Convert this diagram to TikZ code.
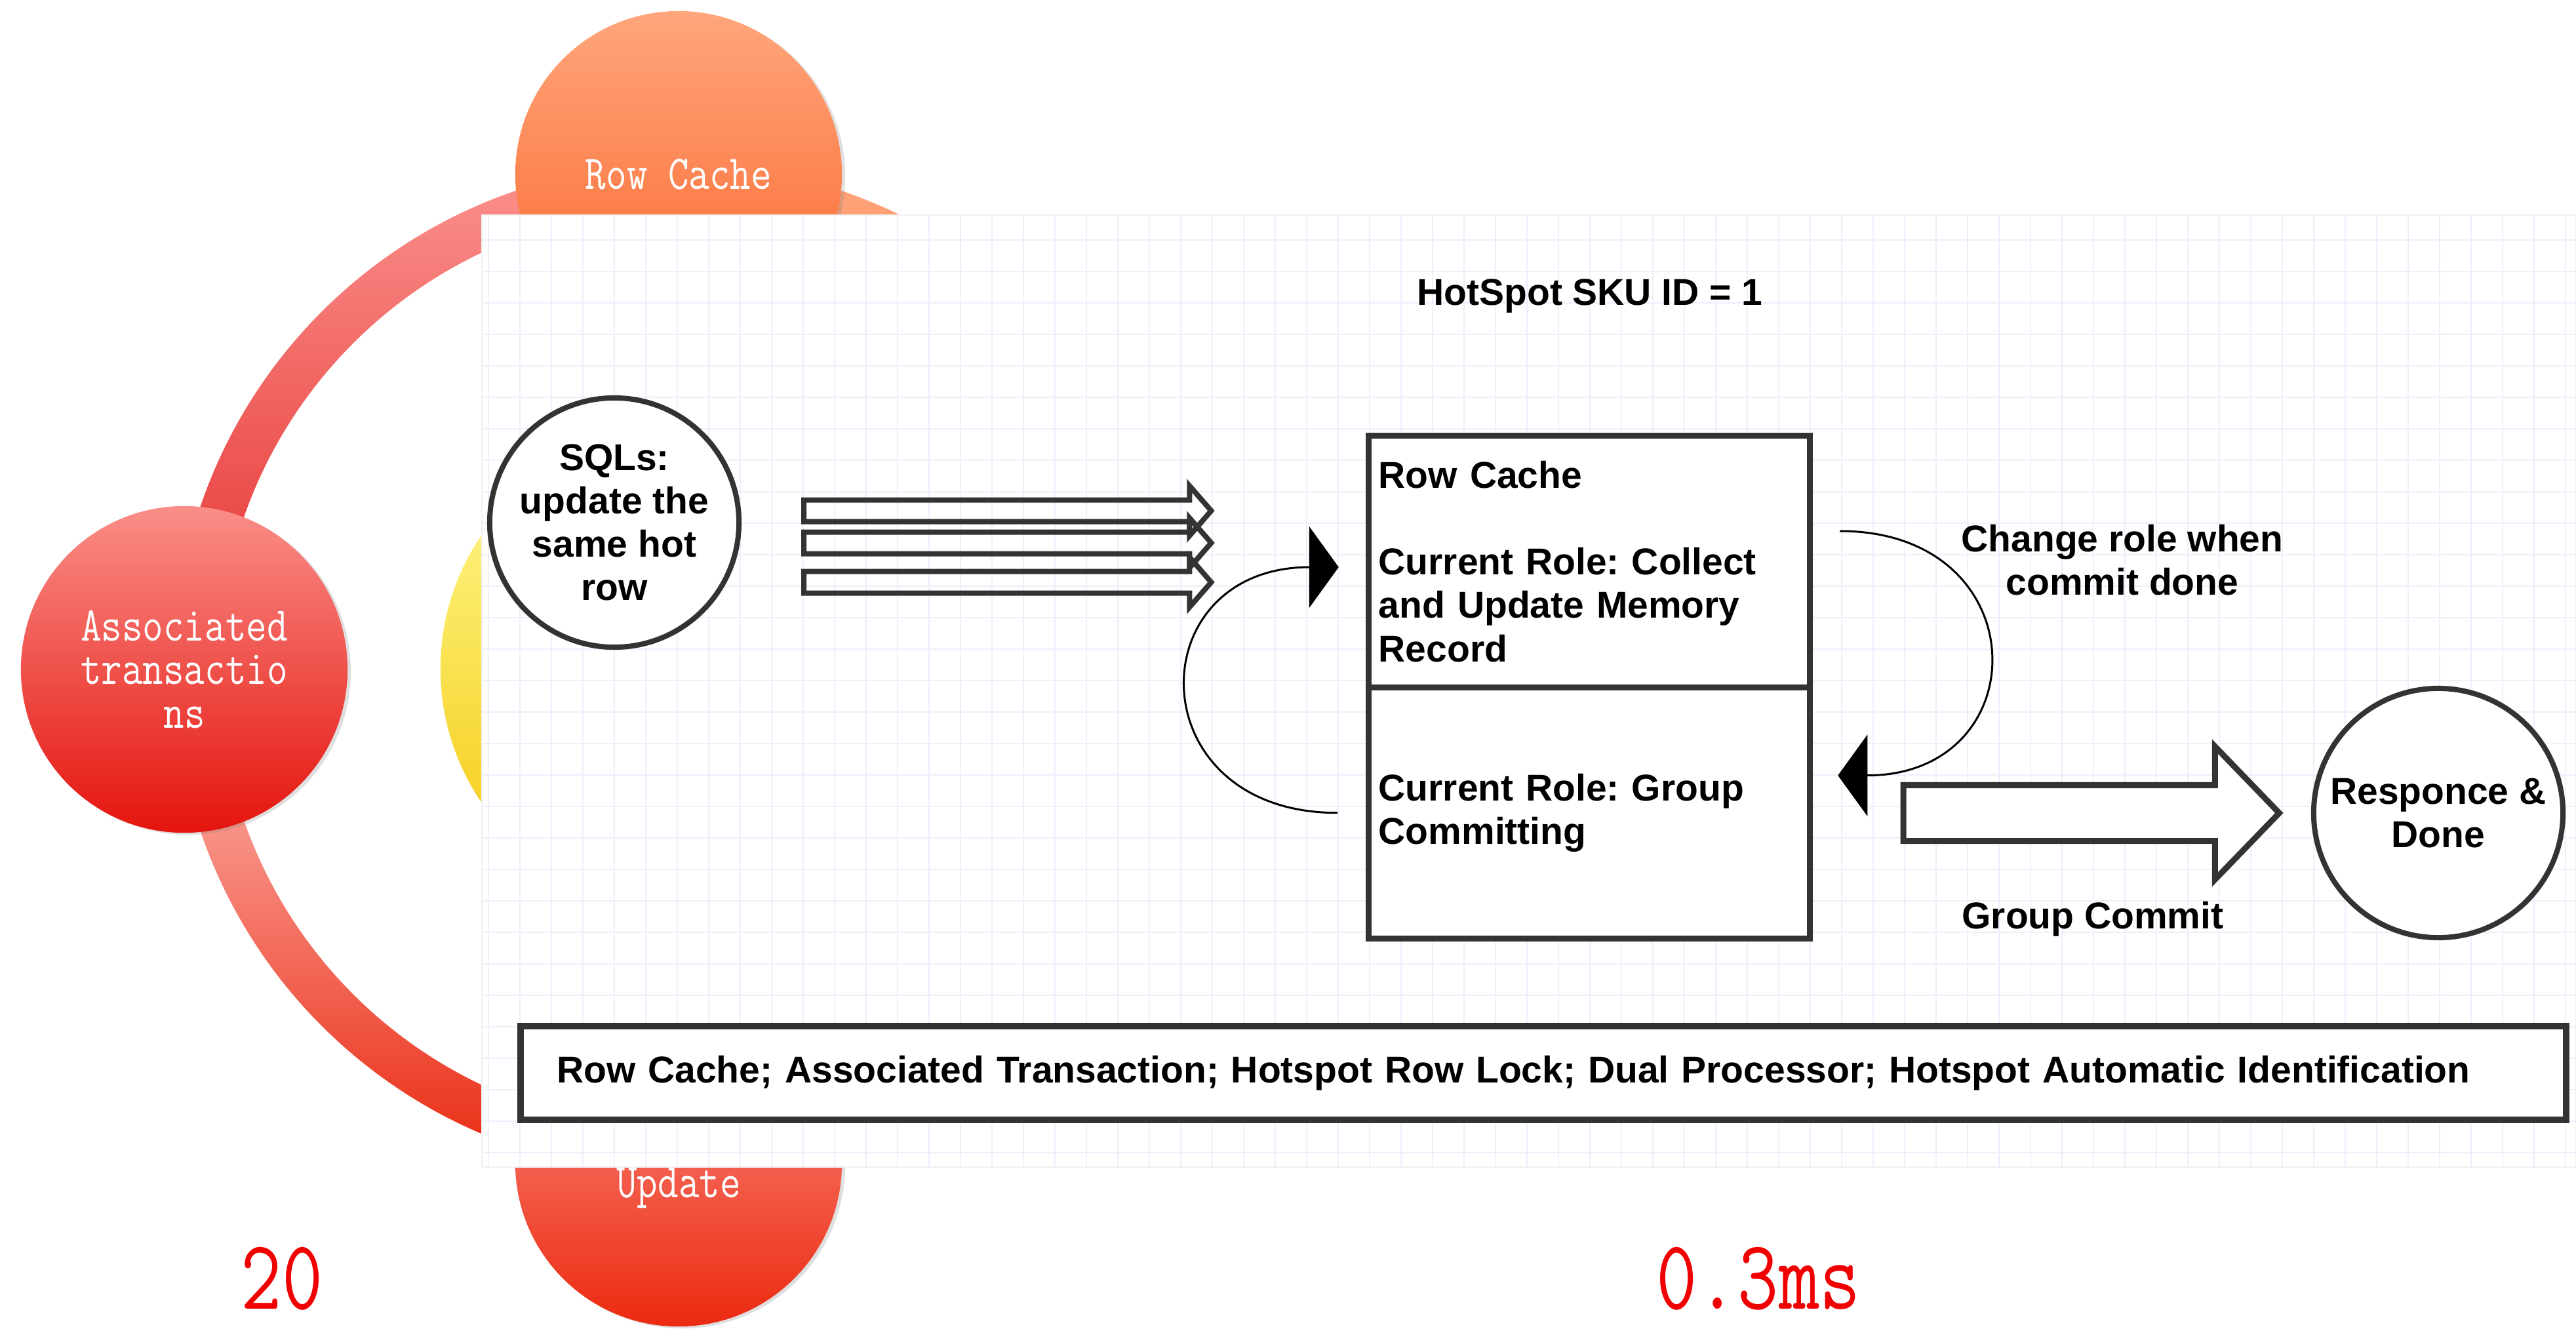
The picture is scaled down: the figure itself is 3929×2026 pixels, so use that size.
\documentclass[tikz,border=0pt]{standalone}
\usepackage{fontspec}
\setmainfont{Liberation Sans}
\usetikzlibrary{shapes,shadows,arrows.meta,positioning}

\definecolor{gridline}{RGB}{238,238,252}
\definecolor{ink}{RGB}{51,51,51}
\definecolor{hotred}{RGB}{240,0,0}
\definecolor{orangeT}{RGB}{255,166,124}
\definecolor{orangeB}{RGB}{250,102,44}
\definecolor{pinkT}{RGB}{251,146,142}
\definecolor{pinkB}{RGB}{227,44,42}
\definecolor{salmonT}{RGB}{255,195,190}
\definecolor{salmonB}{RGB}{233,39,14}
\definecolor{redT}{RGB}{250,142,136}
\definecolor{redB}{RGB}{229,20,14}
\definecolor{updT}{RGB}{250,150,140}
\definecolor{updB}{RGB}{236,42,16}
\definecolor{sunT}{RGB}{255,252,150}
\definecolor{sunB}{RGB}{244,198,10}

\newcommand{\flowfont}{\fontsize{16.2}{18.8}\selectfont\bfseries\frenchspacing}
\newcommand{\cyclefont}{\fontsize{21}{19}\selectfont\ttfamily}
\newcommand{\slimtext}[1]{\scalebox{0.83}[1]{#1}}

\tikzstyle{line} = [draw, line width=0.03cm, -{Triangle[length=0.45cm,width=1.24cm]}]
\tikzstyle{bubble} = [circle, minimum size=4.98cm, inner sep=0pt, text=white, align=center, font=\cyclefont, drop shadow={shadow xshift=0.05cm, shadow yshift=-0.03cm, opacity=0.25}]
\tikzstyle{ball} = [circle, draw=ink, line width=0.08cm, fill=white, minimum size=3.8cm, inner sep=0pt, align=center, font=\flowfont]
\tikzstyle{cell} = [rectangle, draw=ink, line width=0.09cm, fill=white, minimum width=6.72cm, minimum height=3.83cm, text width=6.42cm, inner xsep=0.15cm, outer sep=0pt, align=left, font=\flowfont]
\tikzstyle{hollow} = [single arrow, draw=ink, line width=0.08cm, inner xsep=0pt, outer sep=0pt, anchor=tail]
\tikzstyle{feed} = [hollow, minimum height=6.21cm, inner ysep=0.125cm, single arrow head extend=0.215cm, single arrow tip angle=98]
\tikzstyle{lbl} = [inner sep=0pt, align=center, font=\flowfont]
\tikzstyle{big} = [text=hotred, inner sep=0pt, font=\fontsize{43}{43}\selectfont\ttfamily]

\begin{document}
\begin{tikzpicture}[x=0.01cm, y=-0.01cm]
\useasboundingbox (0,0) rectangle (3929,2026);
\coordinate (hub) at (1035,1020);

\shade[top color=pinkT, bottom color=pinkB] ([shift={(180:770)}]hub) arc[start angle=180, end angle=270, radius=770] -- ([shift={(270:702)}]hub) arc[start angle=270, end angle=180, radius=702] -- cycle;
\shade[top color=salmonT, bottom color=salmonB] ([shift={(90:770)}]hub) arc[start angle=90, end angle=180, radius=770] -- ([shift={(180:702)}]hub) arc[start angle=180, end angle=90, radius=702] -- cycle;
\shade[top color=orangeT, bottom color=orangeB] ([shift={(270:770)}]hub) arc[start angle=270, end angle=360, radius=770] -- ([shift={(360:702)}]hub) arc[start angle=360, end angle=270, radius=702] -- cycle;

\node[bubble, minimum size=7.26cm, top color=sunT, bottom color=sunB] (core) at (hub) {};
\node[bubble, top color=orangeT, bottom color=orangeB] (rowc) at (1035,266) {\slimtext{Row Cache}};
\node[bubble, top color=redT, bottom color=redB] (assoc) at (281,1021) {\slimtext{Associated}\\\slimtext{transactio}\\\slimtext{ns}};
\node[bubble, top color=updT, bottom color=updB] (upd) at (1035,1774) {};
\node[text=white, inner sep=0pt, font=\cyclefont] (updtxt) at ([yshift=-0.38cm]upd.center) {\slimtext{Update}};

\node[big] (cnt) at (430,1950) {\scalebox{0.8}[1]{20}};
\node[big] (lat) at (2682,1950) {\scalebox{0.8}[1]{0.3ms}};

\fill[white, draw=black!6] (735,328) rectangle (3929,1780);
\foreach \gx in {745,793,...,3929} \draw[gridline, line width=0.02cm] (\gx,328) -- (\gx,1780);
\foreach \gy in {366,414,...,1780} \draw[gridline, line width=0.02cm] (735,\gy) -- (3929,\gy);

\node[lbl] (title) at (2425,452) {HotSpot SKU ID = 1};
\node[ball] (sql) at (937,797) {SQLs:\\update the\\same hot\\row};
\node[feed] (feedA) at (1226,779) {};
\node[feed] (feedB) at (1226,828) {};
\node[feed] (feedC) at (1226,888) {};

\node[cell] (rcTop) at (2424,856.5) {Row Cache\\[18.8pt]Current Role: Collect\\and Update Memory\\Record};
\node[cell, below=0pt of rcTop] (rcBot) {Current Role: Group\\Committing};

\path[line] ([xshift=-0.48cm]rcBot.west) .. controls +(-305,0) and +(-307,0) .. ([xshift=-0.46cm, yshift=-0.085cm]rcTop.west);
\path[line] ([xshift=0.46cm, yshift=0.465cm]rcTop.east) .. controls +(303,0) and +(306,0) .. ([xshift=0.43cm, yshift=0.57cm]rcBot.east);
\node[lbl] (chg) at (3237,854) {Change role when\\commit done};

\node[hollow, fill=white, line width=0.09cm, minimum height=5.73cm, inner ysep=0.38cm, single arrow head extend=0.59cm, single arrow tip angle=92] (commit) at (2903,1240) {};
\node[lbl] (gc) at (3192,1402) {Group Commit};
\node[ball] (resp) at (3719,1240) {Responce \&\\Done};

\node[cell, line width=0.1cm, minimum width=31.18cm, minimum height=1.43cm, text width=30.08cm, inner xsep=0.55cm] (feat) at (2354,1636.5) {Row Cache; Associated Transaction; Hotspot Row Lock; Dual Processor; Hotspot Automatic Identification};
\end{tikzpicture}
\end{document}
